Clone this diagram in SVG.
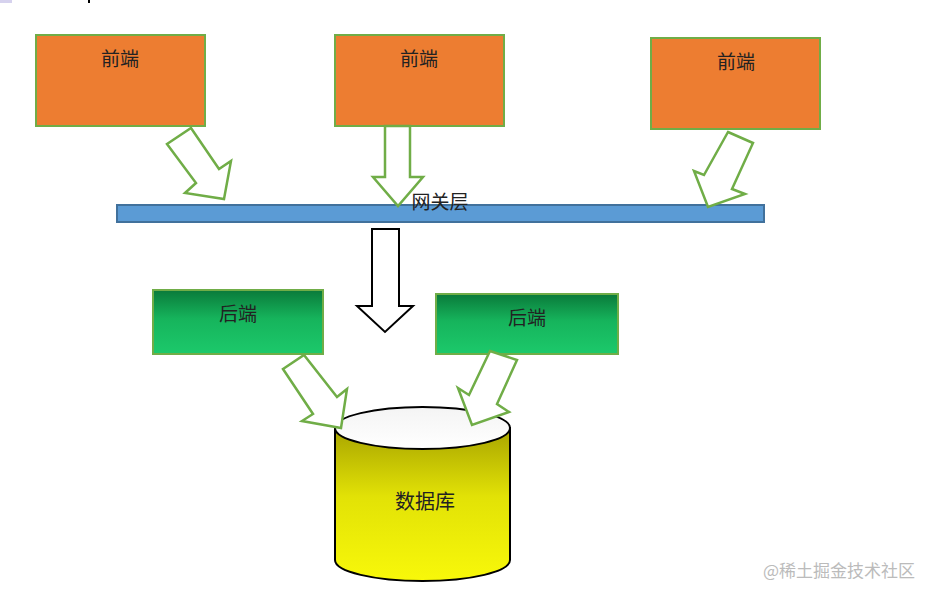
<svg xmlns="http://www.w3.org/2000/svg" width="938" height="600" viewBox="0 0 938 600">
<defs>
<linearGradient id="gBack" x1="0" y1="0" x2="0" y2="1">
<stop offset="0" stop-color="#0A7A3A"/>
<stop offset="0.45" stop-color="#16B45C"/>
<stop offset="1" stop-color="#1CC96B"/>
</linearGradient>
<linearGradient id="gDb" x1="0" y1="0" x2="0" y2="1">
<stop offset="0" stop-color="#A8A400"/>
<stop offset="0.45" stop-color="#E2E206"/>
<stop offset="1" stop-color="#F8F80A"/>
</linearGradient>
<linearGradient id="gTop" x1="0" y1="0" x2="0" y2="1">
<stop offset="0" stop-color="#F4F4F4"/>
<stop offset="1" stop-color="#FFFFFF"/>
</linearGradient>
</defs>
<style>
.front{fill:#ED7D31;stroke:#70AD47;stroke-width:2}
.back{fill:url(#gBack);stroke:#70AD47;stroke-width:2}
.garrow{fill:#FFFFFF;stroke:#70AD47;stroke-width:2.5;stroke-linejoin:miter}
.barrow{fill:#FFFFFF;stroke:#000000;stroke-width:2}
.lbl{font-family:"Noto Sans CJK SC","Noto Sans CJK TC",sans-serif;font-size:19px;fill:#222222;text-anchor:middle}
</style>
<rect width="938" height="600" fill="#FFFFFF"/>
<rect x="0" y="0" width="12" height="3" fill="#D6D2EE"/>
<rect x="88" y="0" width="2" height="3" fill="#000000"/>

<g id="gateway">
<rect x="117" y="205" width="647" height="17" fill="#5B9BD5" stroke="#41719C" stroke-width="2"/>
</g>

<g id="front1">
<rect class="front" x="36" y="35" width="169" height="91"/>
<text class="lbl" x="120" y="66">前端</text>
</g>
<g id="front2">
<rect class="front" x="335" y="35" width="169" height="91"/>
<text class="lbl" x="419" y="66">前端</text>
</g>
<g id="front3">
<rect class="front" x="651" y="38" width="169" height="91"/>
<text class="lbl" x="736" y="69">前端</text>
</g>

<g id="back1">
<rect class="back" x="153" y="290" width="170" height="64"/>
<text class="lbl" x="238" y="321">后端</text>
</g>
<g id="back2">
<rect class="back" x="436" y="294" width="182" height="60"/>
<text class="lbl" x="527" y="325">后端</text>
</g>

<g id="database">
<path d="M335,428 L335,560 A87.5,21 0 0 0 510,560 L510,428 Z" fill="url(#gDb)" stroke="#000000" stroke-width="2"/>
<ellipse cx="422.5" cy="428" rx="87.5" ry="21" fill="url(#gTop)" stroke="#000000" stroke-width="2"/>
<text class="lbl" x="425" y="509" style="font-size:20px">数据库</text>
</g>

<g id="connectors">
<polygon class="garrow" points="167,144 191,128 219,169 231,161 224,199 185,193 196,183"/>
<polygon class="garrow" points="385,126 410,126 410,177 423,177 398,206 373,177 385,177"/>
<polygon class="garrow" points="728,132 753,143 732,189 745,194 708,207 694,171 704,175"/>
<polygon class="barrow" points="372,229 399,229 399,306 413,306 385,332 357,306 372,306"/>
<polygon class="garrow" points="283,369 304,355 337,397 347,389 341,428 302,421 313,414"/>
<polygon class="garrow" points="490,351 517,360 497,404 509,412 472,425 458,388 469,395"/>
</g>

<g id="gateway-label">
<text class="lbl" x="440" y="209">网关层</text>
</g>

<text x="839" y="577" style="font-family:'Noto Sans CJK SC',sans-serif;font-size:17px;fill:#BBBBBB;text-anchor:middle">@稀土掘金技术社区</text>
</svg>
